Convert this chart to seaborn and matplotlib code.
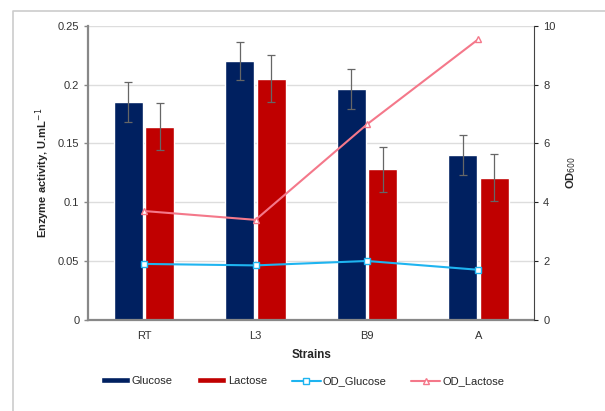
import numpy as np
import pandas as pd
import matplotlib
matplotlib.use("Agg")
import matplotlib.pyplot as plt
import seaborn as sns
from matplotlib.lines import Line2D

strains = ["RT", "L3", "B9", "A"]
glucose = [0.185, 0.220, 0.196, 0.140]
lactose = [0.164, 0.205, 0.128, 0.121]
glucose_err = [0.017, 0.016, 0.017, 0.017]
lactose_err = [0.020, 0.020, 0.019, 0.020]
od_glucose = [1.9, 1.85, 2.0, 1.7]
od_lactose = [3.7, 3.4, 6.65, 9.55]

sns.set_style("white")
plt.rcParams['font.family'] = ['Liberation Sans', 'DejaVu Sans']

df = pd.DataFrame({
    "Strain": strains * 2,
    "Activity": glucose + lactose,
    "Sugar": ["Glucose"] * 4 + ["Lactose"] * 4,
})

fig = plt.figure(figsize=(6.05, 4.11), dpi=100)
ax = fig.add_axes([0.146, 0.222, 0.737, 0.715])

sns.barplot(data=df, x="Strain", y="Activity", hue="Sugar",
            palette=["#002060", "#C00000"], errorbar=None, saturation=1,
            width=0.56, gap=0.07, ax=ax, zorder=2)

# error bars at the bar centres
errs = glucose_err + lactose_err
for p, e in zip(ax.patches[:8], errs):
    xc = p.get_x() + p.get_width() / 2
    ax.errorbar(xc, p.get_height(), yerr=e, color="#666666", lw=0.9,
                capsize=3, capthick=0.9, zorder=3)

ax.set_ylim(0, 0.25)
ax.set_xlim(-0.5, 3.5)
ax.set_yticks([0, 0.05, 0.1, 0.15, 0.2, 0.25])
ax.set_yticklabels(["0", "0.05", "0.1", "0.15", "0.2", "0.25"])
ax.yaxis.grid(True, color="#dddddd", lw=1, zorder=0)
ax.set_axisbelow(True)
ax.set_ylabel("Enzyme activity, U.mL$^{-1}$", fontsize=8, fontweight="bold")
ax.set_xlabel("Strains", fontsize=8.5, fontweight="bold", labelpad=6)
ax.tick_params(axis="both", labelsize=8, colors="#333333", length=3)
ax.tick_params(axis="x", length=0, pad=8)
ax.tick_params(axis="y", left=True, direction="out", width=1, color="#888888")
for s in ["top", "right"]:
    ax.spines[s].set_visible(False)
ax.spines["left"].set_color("#888888")
ax.spines["left"].set_linewidth(1.6)
ax.spines["bottom"].set_color("#888888")
ax.spines["bottom"].set_linewidth(1.6)

ax2 = ax.twinx()
xs = np.arange(len(strains))
sns.lineplot(x=xs, y=od_glucose, ax=ax2, color="#1EB4F0", lw=1.5,
             marker="s", markersize=5, markerfacecolor="white",
             markeredgecolor="#1EB4F0", markeredgewidth=1, label="OD_Glucose")
sns.lineplot(x=xs, y=od_lactose, ax=ax2, color="#F4788A", lw=1.5,
             marker="^", markersize=5, markerfacecolor="white",
             markeredgecolor="#F4788A", markeredgewidth=1, label="OD_Lactose")
ax2.set_ylim(0, 10)
ax2.set_yticks([0, 2, 4, 6, 8, 10])
ax2.set_ylabel("OD$_{600}$", fontsize=8, fontweight="bold", labelpad=6)
ax2.tick_params(axis="y", labelsize=8, colors="#333333", length=3, right=True,
                direction="out", color="#222222")
for s in ["top", "left", "bottom"]:
    ax2.spines[s].set_visible(False)
ax2.spines["right"].set_color("#444444")

h1, l1 = ax.get_legend_handles_labels()
h2, l2 = ax2.get_legend_handles_labels()
ax.get_legend().remove()
ax2.get_legend().remove()
fig.legend(h1 + h2, l1 + l2, loc="center", bbox_to_anchor=(0.5, 0.073),
           ncol=4, frameon=False, fontsize=8, handlelength=2.6,
           handleheight=0.45, handletextpad=0.2, columnspacing=2.2)

# outer chart border (only left and top edges fall inside the image)
fig.add_artist(Line2D([0.021, 0.021, 1.0], [0.0, 0.973, 0.973],
                      transform=fig.transFigure, color="#cccccc", lw=1.2))

fig.savefig("out.png", dpi=100)
